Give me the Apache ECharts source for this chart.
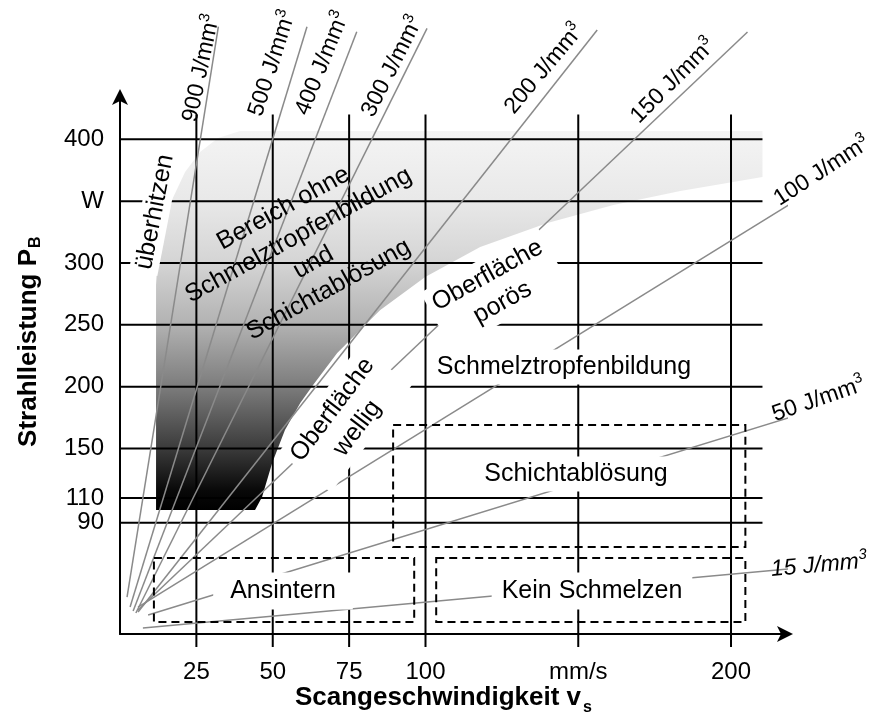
<!DOCTYPE html>
<html><head><meta charset="utf-8">
<script src="https://cdn.jsdelivr.net/npm/echarts@6/dist/echarts.min.js"></script>
<style>html,body{margin:0;padding:0;background:#fff}#c{width:893px;height:718px}</style>
</head><body><div id="c"></div>
<script>
const FONT = '"Liberation Sans", Arial, Helvetica, sans-serif';

// ---- data ----
const xTickValues = [25, 50, 75, 100, 150, 200];
const xTickLabels = ['25', '50', '75', '100', 'mm/s', '200'];
const yTickValues = [90, 110, 150, 200, 250, 300, 350, 400];
const yTickLabels = ['90', '110', '150', '200', '250', '300', 'W', '400'];

const energyValues = [900, 500, 400, 300, 200, 150, 100, 50, 15];
const energyUnit = 'J/mm';
const energyStart = [[2.3, 29.9], [3.3, 21.8], [4.3, 18.6], [5.2, 17.0], [5.9, 17.8], [5.9, 19.4], [5.9, 21.8], [9.2, 15.4], [7.5, 4.9]];
const energyEnd = [[32.2, 491.0], [61.2, 491.0], [77.5, 487.0], [100.5, 489.7], [156.2, 488.4], [205.4, 486.7], [250.6, 395.4], [250.6, 198.9], [250.6, 59.8]];

// region without melt drops / delamination (upper edge then lower edge)
const regionUpper = [[11.8, 100.3], [11.8, 282.2], [12.4, 306.4], [14.1, 328.3], [17.0, 350.9], [21.3, 373.5], [26.2, 389.7], [32.1, 401.0], [39.3, 406.7], [210.3, 406.7], [210.3, 369.5]];
const regionLower = [[183.4, 358.2], [161.5, 346.9], [139.9, 332.3], [117.9, 312.9], [99.9, 288.6], [85.2, 262.0], [80.9, 251.5], [71.1, 227.2], [63.2, 201.3], [59.0, 186.8], [54.0, 164.9], [49.8, 138.3], [46.5, 110.8], [44.2, 100.3]];

// dashed boxes [v0, P0, v1, P1]
const boxNames = ['Schichtablösung', 'Ansintern', 'Kein Schmelzen'];
const boxes = [[89.4, 169.0, 204.7, 70.3], [11.1, 61.4, 96.3, 9.7], [103.5, 61.4, 204.7, 9.7]];

// ---- chart ----
const chart = echarts.init(document.getElementById('c'), null, {renderer: 'canvas'});
const gridXExt = [-4.3, 210.3];
const gridYExt = [-10.5, 420];

const series = [];
series.push({
  type: 'custom', z: 1, silent: true, clip: false,
  data: [[0, 0]],
  renderItem: function (params, api) {
    const pts = regionUpper.concat(regionLower).map(p => api.coord(p));
    return {
      type: 'polygon', shape: {points: pts},
      style: {
        fill: new echarts.graphic.LinearGradient(0, 0, 0, 1, [
          {offset: 0, color: '#f4f4f4'},
          {offset: 0.18, color: '#e9e9e9'},
          {offset: 0.35, color: '#d4d4d4'},
          {offset: 0.51, color: '#b2b2b2'},
          {offset: 0.675, color: '#7c7c7c'},
          {offset: 0.84, color: '#3a3a3a'},
          {offset: 0.95, color: '#080808'},
          {offset: 1, color: '#000000'}
        ])
      }
    };
  }
});
yTickValues.forEach(p => series.push({
  type: 'line', z: 3, silent: true, clip: false, symbol: 'none',
  lineStyle: {color: '#000', width: 2}, data: [[gridXExt[0], p], [gridXExt[1], p]]
}));
xTickValues.forEach(v => series.push({
  type: 'line', z: 3, silent: true, clip: false, symbol: 'none',
  lineStyle: {color: '#000', width: 2}, data: [[v, gridYExt[0]], [v, gridYExt[1]]]
}));
energyValues.forEach((e, i) => series.push({
  type: 'line', name: e + ' J/mm³', z: 4, silent: true, clip: false, symbol: 'none',
  lineStyle: {color: '#8a8a8a', width: 1.5}, data: [energyStart[i], energyEnd[i]]
}));
series.push({
  type: 'custom', z: 5, silent: true, clip: false,
  encode: {x: [0, 2], y: [1, 3]},
  data: boxes,
  renderItem: function (params, api) {
    const a = api.coord([api.value(0), api.value(1)]);
    const b = api.coord([api.value(2), api.value(3)]);
    return {
      type: 'rect',
      shape: {x: Math.min(a[0], b[0]), y: Math.min(a[1], b[1]), width: Math.abs(b[0] - a[0]), height: Math.abs(b[1] - a[1])},
      style: {fill: null, stroke: '#000', lineWidth: 2, lineDash: [8, 5]}
    };
  }
});

const deg = d => d * Math.PI / 180;
function txt(text, x, y, rot, opt) {
  opt = opt || {};
  const style = {
    text: text, x: 0, y: 0, fill: '#000',
    font: (opt.italic ? 'italic ' : '') + (opt.bold ? 'bold ' : '') + (opt.size || 25) + 'px ' + FONT,
    align: opt.align || 'center', verticalAlign: 'middle'
  };
  if (opt.lh) style.lineHeight = opt.lh;
  if (opt.bg) { style.backgroundColor = '#fff'; style.padding = opt.pad || [4, 8]; }
  return {type: 'text', x: x, y: y, rotation: deg(rot || 0), z: opt.bg ? 50 : 60, silent: true, style: style};
}
function energyText(value, x, y, rot, italic) {
  const f = italic ? 'italic ' : '';
  return {
    type: 'text', x: x, y: y, rotation: deg(rot), z: 60, silent: true,
    style: {
      text: '{a|' + value + ' ' + energyUnit + '}{s|3}', align: 'center', verticalAlign: 'middle',
      rich: {
        a: {font: f + '23px ' + FONT, fill: '#000', lineHeight: 26, verticalAlign: 'bottom'},
        s: {font: f + '15px ' + FONT, fill: '#000', lineHeight: 15, verticalAlign: 'top'}
      }
    }
  };
}

const energyLayout = [[200, 68, 78], [271, 63, 72], [321, 63, 68], [391, 66, 63], [543, 68, 50], [672, 80, 45], [821, 170, 33], [818, 398, 19], [819, 564, 5]];
const graphics = [];
energyValues.forEach((e, i) => {
  const L = energyLayout[i];
  graphics.push(energyText(e, L[0], L[1], L[2], i === 8));
});
graphics.push(txt('überhitzen', 155, 212, 79, {bg: true, pad: [2, 4]}));
graphics.push(txt('Bereich ohne\nSchmelztropfenbildung\nund\nSchichtablösung', 306, 249, 29, {lh: 31}));
graphics.push(txt('Oberfläche\nporös', 495, 289, 29, {lh: 31, bg: true, pad: [2, 6]}));
graphics.push(txt('Oberfläche\nwellig', 345, 419, 53, {lh: 31, bg: true, pad: [2, 6]}));
graphics.push(txt('Schmelztropfenbildung', 564, 367, 0, {bg: true, pad: [5, 8]}));
graphics.push(txt(boxNames[0], 576, 474, 0, {bg: true, pad: [5, 10]}));
graphics.push(txt(boxNames[1], 283, 591, 0, {bg: true, pad: [6, 17]}));
graphics.push(txt(boxNames[2], 592, 591, 0, {bg: true, pad: [6, 10]}));
// axis titles
graphics.push(txt('Scangeschwindigkeit v', 581, 698, 0, {bold: true, size: 26, align: 'right'}));
graphics.push(txt('s', 583, 708, 0, {bold: true, size: 16, align: 'left'}));
graphics.push({type: 'group', x: 29, y: 249, rotation: deg(90), silent: true, children: [
  {type: 'text', x: 0, y: 0, style: {text: 'Strahlleistung P', font: 'bold 26px ' + FONT, fill: '#000', align: 'right', verticalAlign: 'middle'}},
  {type: 'text', x: 1, y: 7, style: {text: 'B', font: 'bold 16px ' + FONT, fill: '#000', align: 'left', verticalAlign: 'middle'}}
]});

chart.setOption({
  animation: false,
  backgroundColor: '#fff',
  grid: {left: 120, right: 107, top: 96, bottom: 84, containLabel: false, outerBoundsMode: 'none'},
  xAxis: {
    type: 'value', min: 0, max: 218,
    axisLine: {show: true, onZero: false, lineStyle: {color: '#000', width: 2}, symbol: ['none', 'arrow'], symbolSize: [12, 16], symbolOffset: [0, 7]},
    axisTick: {show: false}, splitLine: {show: false},
    axisLabel: {customValues: xTickValues, formatter: v => xTickLabels[xTickValues.indexOf(v)], fontSize: 24, color: '#000', margin: 26, fontFamily: FONT}
  },
  yAxis: {
    type: 'value', min: 0, max: 435,
    axisLine: {show: true, onZero: false, lineStyle: {color: '#000', width: 2}, symbol: ['none', 'arrow'], symbolSize: [12, 16], symbolOffset: [0, 7]},
    axisTick: {show: false}, splitLine: {show: false},
    axisLabel: {customValues: yTickValues, formatter: v => yTickLabels[yTickValues.indexOf(v)], fontSize: 24, color: '#000', margin: 16, fontFamily: FONT}
  },
  series: series,
  graphic: graphics
});
</script></body></html>
